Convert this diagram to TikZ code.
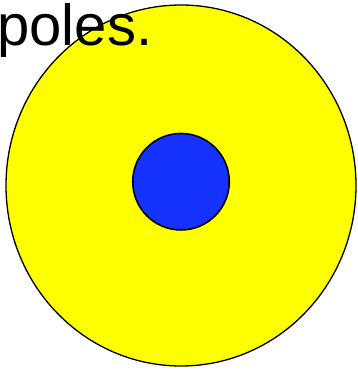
\documentclass[tikz,border=0pt]{standalone}
\usepackage{fontspec}
\setmainfont{Liberation Sans}
\definecolor{ballyellow}{RGB}{255,255,0}
\definecolor{coreblue}{RGB}{21,50,255}
\begin{document}
\begin{tikzpicture}[x=1pt,y=-1pt,
  outer/.style={draw=black,line width=1.3pt,fill=ballyellow},
  inner/.style={draw=black,line width=1.6pt,fill=coreblue},
  label/.style={anchor=base west,inner sep=0pt,font=\fontsize{58}{60}\selectfont}]
\useasboundingbox (0,0) rectangle (357,370);
\draw[outer] (181,185.5) ellipse [x radius=175,y radius=180.5];
\node[inner,circle,minimum size=96.5pt,inner sep=0pt] (core) at (181,181.7) {};
\node[label] (txt) at (-2.8,45) {poles.};
\end{tikzpicture}
\end{document}
